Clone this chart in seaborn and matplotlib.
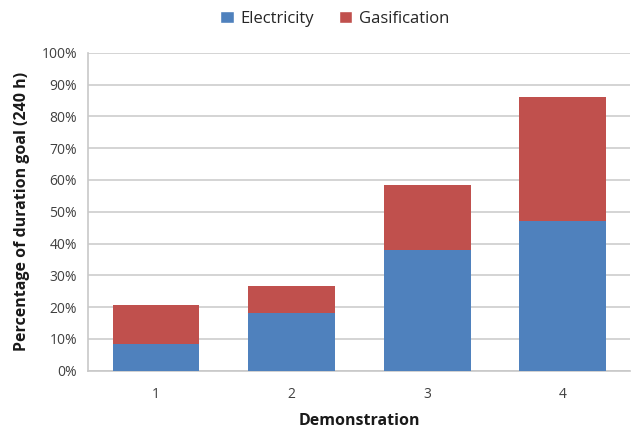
import matplotlib
matplotlib.use("Agg")
import matplotlib.pyplot as plt
import seaborn as sns
import pandas as pd
from matplotlib.patches import Patch
from matplotlib.ticker import PercentFormatter

demonstrations = ["1", "2", "3", "4"]
electricity = [8.4, 18.0, 37.9, 47.2]
gasification = [12.4, 8.6, 20.4, 39.0]
y_ticks = list(range(0, 101, 10))

blue = "#4F81BD"
red = "#C0504D"

sns.set_theme(style="white")
plt.rcParams["font.family"] = ["Open Sans", "DejaVu Sans"]

df = pd.DataFrame({
    "Demonstration": demonstrations,
    "Electricity": electricity,
    "Gasification": gasification,
})
df["Total"] = df["Electricity"] + df["Gasification"]

fig = plt.figure(figsize=(6.44, 4.30), dpi=100)
ax = fig.add_axes([0.137, 0.138, 0.842, 0.739])

# stacked bars: total (red) behind, electricity (blue) in front
sns.barplot(data=df, x="Demonstration", y="Total", color=red, saturation=1,
            width=0.64, linewidth=0, ax=ax, zorder=3)
sns.barplot(data=df, x="Demonstration", y="Electricity", color=blue, saturation=1,
            width=0.64, linewidth=0, ax=ax, zorder=4)

ax.set_ylim(0, 100)
ax.set_xlim(-0.5, 3.5)
ax.set_yticks(y_ticks)
ax.yaxis.set_major_formatter(PercentFormatter(decimals=0))
ax.grid(axis="y", color="#d4d4d4", linewidth=1.4, zorder=0)
ax.set_axisbelow(True)

for side in ["top", "right"]:
    ax.spines[side].set_visible(False)
for side in ["left", "bottom"]:
    ax.spines[side].set_color("#c8c8c8")
    ax.spines[side].set_linewidth(1.2)

ax.tick_params(axis="both", length=0, labelsize=10, labelcolor="#404040")
ax.tick_params(axis="x", pad=12)
ax.tick_params(axis="y", pad=8)

ax.set_xlabel("Demonstration", fontsize=11.5, fontweight="bold", color="#1a1a1a", labelpad=8)
ax.set_ylabel("Percentage of duration goal (240 h)", fontsize=11.5, fontweight="bold",
              color="#1a1a1a", labelpad=8)

handles = [Patch(facecolor=blue, label="Electricity"),
           Patch(facecolor=red, label="Gasification")]
leg = fig.legend(handles=handles, loc="upper center", bbox_to_anchor=(0.52, 1.01), ncol=2,
                 frameon=False, fontsize=12, handlelength=0.8, handleheight=0.8,
                 handletextpad=0.4, columnspacing=1.5)
for t in leg.get_texts():
    t.set_color("#262626")

fig.savefig("out.png", dpi=100)
